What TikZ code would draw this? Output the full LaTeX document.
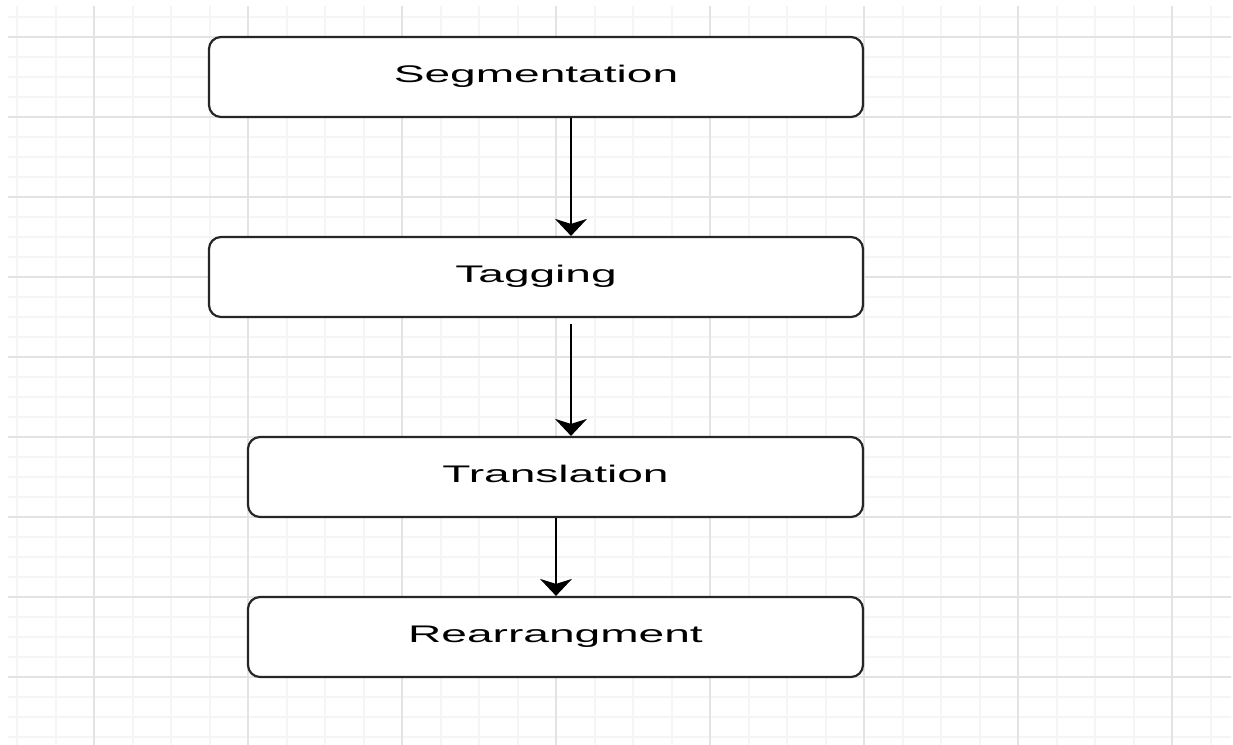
\documentclass[tikz,border=0pt]{standalone}
\usepackage{fontspec}
\setmainfont[FakeStretch=1.92]{Liberation Sans}
\usetikzlibrary{arrows.meta}
\begin{document}
\begin{tikzpicture}[x=0.5pt,y=-0.5pt,
  box/.style={draw=black!85, line width=1.1pt, rounded corners=6pt, fill=white,
    minimum height=40pt, inner sep=0pt, font=\fontsize{12}{14}\selectfont,
    text height=8.6pt, text depth=3pt},
  conn/.style={line width=1pt, -{Stealth[length=8.5pt, width=16pt, inset=2.5pt]}},
  minorgrid/.style={line width=1pt, black!4},
  majorgrid/.style={line width=1pt, black!11}]
\useasboundingbox (0,0) rectangle (1233,745);
\begin{scope}
  \clip (8,6) rectangle (1231,745);
  \foreach \i in {-2,...,29} \draw[minorgrid] ({94+38.5*\i},0) -- ({94+38.5*\i},745);
  \foreach \j in {-1,...,35} \draw[minorgrid] (0,{37+20*\j}) -- (1233,{37+20*\j});
  \foreach \i in {0,...,7} \draw[majorgrid] ({94+154*\i},0) -- ({94+154*\i},745);
  \foreach \j in {0,...,8} \draw[majorgrid] (0,{37+80*\j}) -- (1233,{37+80*\j});
\end{scope}

\node[box, minimum width=327pt] (seg) at (536,77) {Segmentation};
\node[box, minimum width=327pt] (tag) at (536,277) {Tagging};
\node[box, minimum width=307.5pt] (tra) at (555.5,477) {Translation};
\node[box, minimum width=307.5pt] (rea) at (555.5,637) {Rearrangment};

\coordinate (a1) at (571,0);
\coordinate (a3) at (556,0);

\draw[conn] (seg.south -| a1) -- (tag.north -| a1);
\draw[conn] ([yshift=-3pt]tag.south -| a1) -- (tra.north -| a1);
\draw[conn] (tra.south -| a3) -- (rea.north -| a3);
\end{tikzpicture}
\end{document}
